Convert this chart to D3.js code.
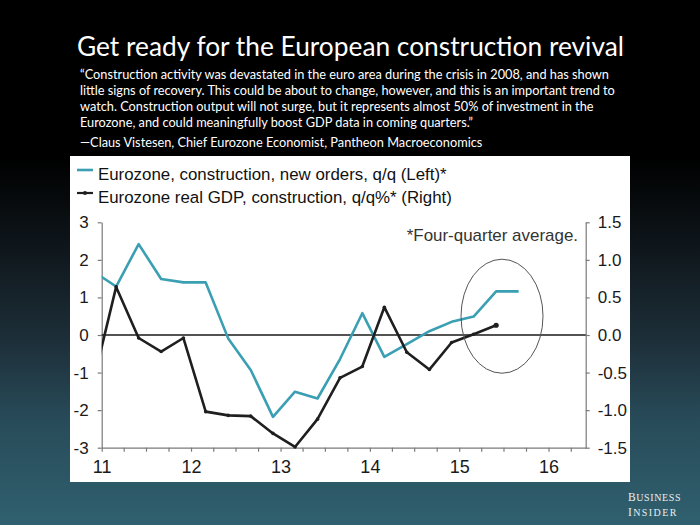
<!DOCTYPE html>
<html><head><meta charset="utf-8">
<script src="https://cdn.jsdelivr.net/npm/d3@7"></script>
<style>html,body{margin:0;padding:0;background:#000;} svg{display:block}</style>
</head><body>
<script>
// ---------------- data ----------------
const periods = ["2010-12","2011-03","2011-06","2011-09","2011-12","2012-03","2012-06","2012-09","2012-12",
  "2013-03","2013-06","2013-09","2013-12","2014-03","2014-06","2014-09","2014-12","2015-03","2015-06","2015-09"];
const newOrders = [1.68, 1.29, 2.42, 1.49, 1.40, 1.40, -0.09, -0.93, -2.18, -1.51, -1.69, -0.64, 0.58, -0.58, -0.24, 0.10, 0.35, 0.49, 1.16, 1.16];
const gdpConstruction = [-0.58, 0.64, -0.04, -0.22, -0.04, -1.02, -1.07, -1.08, -1.31, -1.49, -1.12, -0.57, -0.42, 0.37, -0.23, -0.46, -0.10, 0.01, 0.13];
const leftTicks = [-3, -2, -1, 0, 1, 2, 3];
const rightTicks = [-1.5, -1.0, -0.5, 0.0, 0.5, 1.0, 1.5];
const seriesNames = ["Eurozone, construction, new orders, q/q (Left)*", "Eurozone real GDP, construction, q/q%* (Right)"];
const titleText = "Get ready for the European construction revival";
const quoteLines = [
  "\u201CConstruction activity was devastated in the euro area during the crisis in 2008, and has shown",
  "little signs of recovery. This could be about to change, however, and this is an important trend to",
  "watch. Construction output will not surge, but it represents almost 50% of investment in the",
  "Eurozone, and could meaningfully boost GDP data in coming quarters.\u201D"
];
const attribution = "\u2014Claus Vistesen, Chief Eurozone Economist, Pantheon Macroeconomics";
const footnote = "*Four-quarter average.";
const highlight = {date: "2015-06-25", value: 0.5};

// ---------------- layout ----------------
const W = 700, H = 525;
const parse = s => { const p = s.split("-").map(Number); return new Date(p[0], p[1]-1, p[2] || 1); };
const svg = d3.select("body").append("svg").attr("width", W).attr("height", H);
const defs = svg.append("defs");
const grad = defs.append("linearGradient").attr("id","bg").attr("x1",0).attr("y1",0).attr("x2",0).attr("y2",1);
[[0,"#000000"],[0.3,"#000000"],[0.5,"#111a20"],[0.65,"#1d2f39"],[0.8,"#284b59"],[1,"#30606f"]]
  .forEach(([o,c]) => grad.append("stop").attr("offset",o).attr("stop-color",c));
svg.append("rect").attr("width",W).attr("height",H).attr("fill","url(#bg)");

function fit(sel, width){
  const w = sel.node().getComputedTextLength();
  const fs = parseFloat(sel.attr("font-size"));
  sel.attr("font-size", (fs*width/w).toFixed(2));
}

// title
const title = svg.append("text").attr("x",350.5).attr("y",56).attr("text-anchor","middle")
  .attr("font-family","Lato, 'Open Sans', sans-serif").attr("font-size",27).attr("fill","#fff").text(titleText);
fit(title, 547);

// quote
const qTargets = [526, 537, 513, 390];
const qBase = [79, 95, 111, 127];
let sumW = 0, sumT = 0;
const qSel = quoteLines.map((t,i) => {
  const s = svg.append("text").attr("x",80).attr("y",qBase[i]).attr("font-family","Lato, 'Open Sans', sans-serif")
    .attr("font-size",13).attr("fill","#fff").text(t);
  sumW += s.node().getComputedTextLength(); sumT += qTargets[i];
  return s;
});
const att = svg.append("text").attr("x",80).attr("y",147).attr("font-family","Lato, 'Open Sans', sans-serif")
  .attr("font-size",13).attr("fill","#fff").text(attribution);
sumW += att.node().getComputedTextLength(); sumT += 406;
const qfs = 13*sumT/sumW;
qSel.forEach(s => s.attr("font-size", qfs.toFixed(2)));
att.attr("font-size", qfs.toFixed(2));

// panel
svg.append("rect").attr("x",70).attr("y",156).attr("width",560).attr("height",326).attr("fill","#fff");

const x0 = 101.7, x1 = 585.7, yTop = 222.3, yBot = 447.7;
const x = d3.scaleTime().domain([new Date(2011,0,1), new Date(2016,5,1)]).range([x0, x1]);
const yL = d3.scaleLinear().domain([-3,3]).range([yBot, yTop]);
const yR = d3.scaleLinear().domain([-1.5,1.5]).range([yBot, yTop]);

const chartFont = "'Liberation Sans', Arial, sans-serif";
const axisColor = "#7a7a7a";

// axes
const fmtL = d => d < 0 ? "-" + Math.abs(d) : String(d);
const fmtR = d => (d < 0 ? "-" : "") + Math.abs(d).toFixed(1);
const gL = svg.append("g").attr("transform",`translate(${x0},0)`)
  .call(d3.axisLeft(yL).tickValues(leftTicks).tickFormat(fmtL).tickSize(4).tickSizeOuter(0).tickPadding(9));
const gR = svg.append("g").attr("transform",`translate(${x1},0)`)
  .call(d3.axisRight(yR).tickValues(rightTicks).tickFormat(fmtR).tickSize(4).tickSizeOuter(0).tickPadding(8));
const gB = svg.append("g").attr("transform",`translate(0,${yBot})`)
  .call(d3.axisBottom(x).ticks(d3.timeMonth.every(3)).tickFormat(d => d.getMonth()===0 ? d3.timeFormat("%y")(d) : "")
    .tickSize(4).tickSizeOuter(0).tickPadding(9));
[gL,gR,gB].forEach(g => {
  g.select(".domain").attr("stroke",axisColor).attr("stroke-width",1.2);
  g.selectAll(".tick line").attr("stroke",axisColor).attr("stroke-width",1.2);
  g.selectAll("text").attr("font-family",chartFont).attr("fill","#1a1a1a");
});
gL.selectAll("text").attr("font-size",17);
gR.selectAll("text").attr("font-size",17);
gB.selectAll("text").attr("font-size",18);

// zero line
svg.append("line").attr("x1",x0).attr("x2",x1).attr("y1",yL(0)).attr("y2",yL(0))
  .attr("stroke","#1a1a1a").attr("stroke-width",1.4);

// clip
defs.append("clipPath").attr("id","plot").append("rect")
  .attr("x",x0).attr("y",yTop-20).attr("width",x1-x0).attr("height",yBot-yTop+40);

const teal = "#3a9fb3", dark = "#1f1f1f";
const lineL = d3.line().x((d,i) => x(parse(periods[i]))).y(d => yL(d));
const lineR = d3.line().x((d,i) => x(parse(periods[i]))).y(d => yR(d));
const plot = svg.append("g").attr("clip-path","url(#plot)");
plot.append("path").datum(newOrders).attr("d",lineL).attr("fill","none").attr("stroke",teal)
  .attr("stroke-width",2.6).attr("stroke-linejoin","round");
plot.append("path").datum(gdpConstruction).attr("d",lineR).attr("fill","none").attr("stroke",dark)
  .attr("stroke-width",2.6).attr("stroke-linejoin","round");
plot.selectAll("circle.m").data(gdpConstruction).enter().append("circle").attr("class","m")
  .attr("cx",(d,i) => x(parse(periods[i]))).attr("cy",d => yR(d))
  .attr("r",(d,i) => i === gdpConstruction.length-1 ? 2.6 : 1.8).attr("fill",dark);

// ellipse annotation
svg.append("ellipse").attr("cx",x(parse(highlight.date))).attr("cy",yL(highlight.value))
  .attr("rx",41).attr("ry",57).attr("fill","none").attr("stroke","#555").attr("stroke-width",1);

// footnote
const fn = svg.append("text").attr("x",406.7).attr("y",240.5).attr("font-family",chartFont)
  .attr("font-size",16).attr("fill","#333").text(footnote);
fit(fn, 171.6);

// legend
const lg = svg.append("g");
lg.append("line").attr("x1",77).attr("x2",93).attr("y1",170).attr("y2",170).attr("stroke",teal).attr("stroke-width",2.6);
lg.append("line").attr("x1",77).attr("x2",93).attr("y1",193).attr("y2",193).attr("stroke",dark).attr("stroke-width",2.2);
lg.append("circle").attr("cx",85).attr("cy",193).attr("r",2).attr("fill",dark);
const l1 = lg.append("text").attr("x",98).attr("y",180).attr("font-family",chartFont).attr("font-size",17)
  .attr("fill","#111").text(seriesNames[0]);
const l2 = lg.append("text").attr("x",98).attr("y",203).attr("font-family",chartFont).attr("font-size",17)
  .attr("fill","#111").text(seriesNames[1]);
fit(l2, 354);
l1.attr("font-size", l2.attr("font-size"));

// Business Insider mark
const bi = svg.append("g").attr("fill","#e9eff1").attr("font-family","'Liberation Serif', 'DejaVu Serif', serif");
const b1 = bi.append("text").attr("x",628).attr("y",501).attr("font-size",10).attr("letter-spacing",0.6);
b1.append("tspan").attr("font-size",11.5).text("B"); b1.append("tspan").text("USINESS");
const b2 = bi.append("text").attr("x",628).attr("y",516).attr("font-size",10).attr("letter-spacing",1.4);
b2.append("tspan").attr("font-size",11.5).text("I"); b2.append("tspan").text("NSIDER");
</script>
</body></html>
